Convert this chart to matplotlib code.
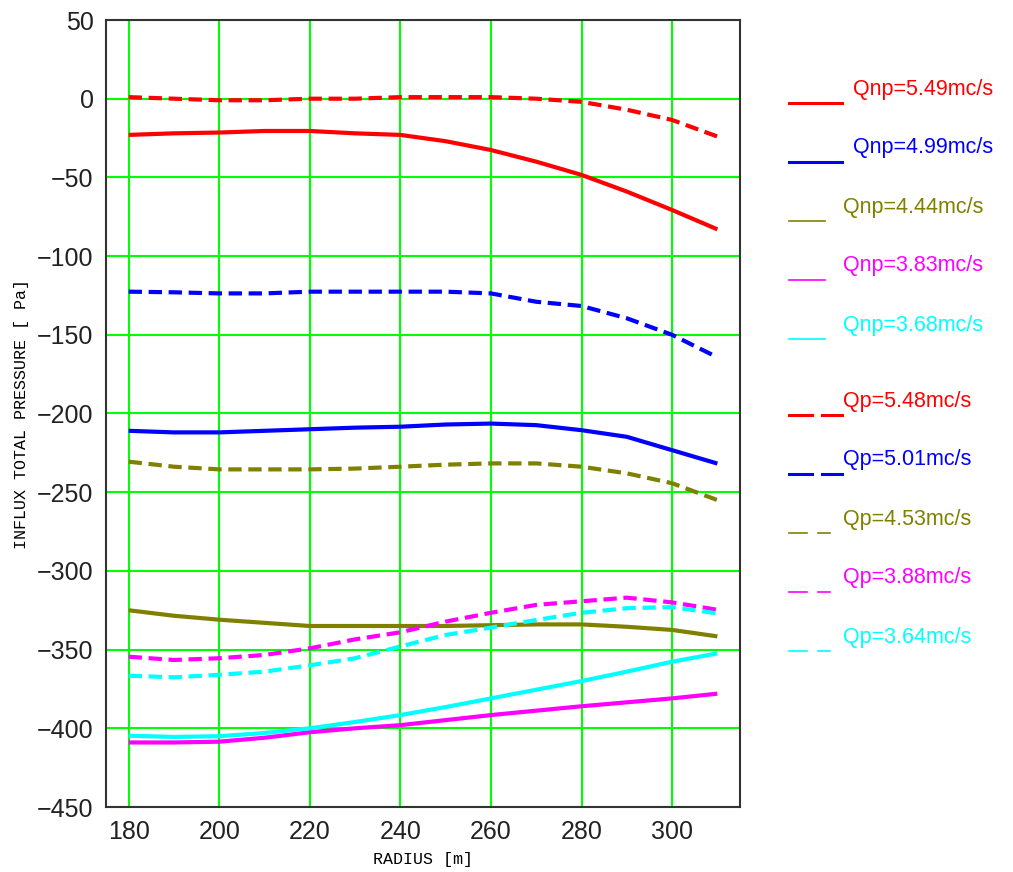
import matplotlib
matplotlib.use("Agg")
import matplotlib.pyplot as plt
from matplotlib.lines import Line2D

radius = [180, 190, 200, 210, 220, 230, 240, 250, 260, 270, 280, 290, 300, 310]

# non-pulsating flow (solid)
qnp_549 = [-23, -22, -21.5, -20.5, -20.5, -22, -23, -27, -32.6, -40, -48.4, -59, -70.7, -83]
qnp_499 = [-211, -212, -212, -211, -210, -209, -208.4, -207, -206.4, -207.4, -210.6, -214.8, -223.3, -231.8]
qnp_444 = [-325, -328.5, -331, -333, -335, -335, -335, -335, -334.5, -334, -334, -335.5, -337.5, -341.6]
qnp_383 = [-409, -409, -408.5, -406, -402.5, -400, -398, -394.8, -391.6, -388.8, -386, -383.5, -381, -378]
qnp_368 = [-404.7, -405.5, -405, -403, -400, -396, -391.6, -386.5, -381, -375.5, -370, -364, -357.7, -352.4]

# pulsating flow (dashed)
qp_548 = [1, 0, -1, -1, 0, 0, 1, 1, 1, 0, -2, -7, -13.5, -24]
qp_501 = [-122.6, -123, -123.7, -123.7, -122.6, -122.6, -122.6, -122.6, -123.7, -129, -131.7, -139.5, -150, -164.3]
qp_453 = [-230.6, -233.8, -235.5, -235.5, -235.5, -235, -233.8, -232.5, -231.7, -231.7, -233.8, -238, -244.3, -255]
qp_388 = [-354.5, -356.6, -355.5, -353.4, -349.2, -343.5, -339, -332.2, -326.6, -321.6, -319.3, -317, -320, -324.7]
qp_364 = [-366.6, -367.6, -366, -364, -360, -355.5, -348, -340.7, -336, -331.2, -326.6, -323.7, -323, -327]

solid = [qnp_549, qnp_499, qnp_444, qnp_383, qnp_368]
dashed = [qp_548, qp_501, qp_453, qp_388, qp_364]
colors = ["#ff0000", "#0000ff", "#808000", "#ff00ff", "#00ffff"]
solid_labels = ["Qnp=5.49mc/s", "Qnp=4.99mc/s", "Qnp=4.44mc/s", "Qnp=3.83mc/s", "Qnp=3.68mc/s"]
dashed_labels = ["Qp=5.48mc/s", "Qp=5.01mc/s", "Qp=4.53mc/s", "Qp=3.88mc/s", "Qp=3.64mc/s"]

W, H = 1013, 872
fig = plt.figure(figsize=(W / 100, H / 100), dpi=100)
ax = fig.add_axes([106 / W, 1 - 807 / H, (740 - 106) / W, (807 - 20) / H])

dash = (0, (3.2, 1.6))
for ys, c in zip(solid, colors):
    ax.plot(radius, ys, color=c, lw=3, solid_capstyle="butt", zorder=3)
for ys, c in zip(dashed, colors):
    ax.plot(radius, ys, color=c, lw=3, linestyle=dash, zorder=3)

ax.set_xlim(175, 315)
ax.set_ylim(-450, 50)
ax.set_xticks(range(180, 301, 20))
ax.set_yticks(range(-450, 51, 50))
ax.yaxis.set_major_formatter(matplotlib.ticker.FuncFormatter(lambda v, p: f"{int(v)}".replace("-", "\u2212")))
ax.grid(True, color="#00ff00", lw=1.5, zorder=1)
ax.tick_params(length=0, labelsize=18, pad=9, labelcolor="#222222")
for lab in ax.get_xticklabels() + ax.get_yticklabels():
    lab.set_family("Liberation Sans")
for s in ax.spines.values():
    s.set_color("#333333")
    s.set_linewidth(1.5)

ax.set_xlabel("RADIUS [m]", family="Liberation Mono", fontsize=12, labelpad=6)
ax.set_ylabel("INFLUX TOTAL PRESSURE [ Pa]", family="Liberation Mono", fontsize=12, labelpad=6)

# hand-made legend on the right
def fx(px):
    return px / W

def fy(py):
    return 1 - py / H

for i, (c, lab) in enumerate(zip(colors, solid_labels)):
    ly = 103 + i * 59
    thick = i < 2
    x1 = 842 if thick else 825
    fig.add_artist(Line2D([fx(789), fx(x1)], [fy(ly), fy(ly)], color=c, lw=2.2 if thick else 1.2))
    fig.text(fx(853 if thick else 843), fy(ly - 14), lab, color=c, fontsize=15.5,
             family="Liberation Sans", va="center", ha="left")

for i, (c, lab) in enumerate(zip(colors, dashed_labels)):
    ly = 415 + i * 59
    thick = i < 2
    lw = 2.2 if thick else 1.2
    x1, x2, x3 = (812, 822, 842) if thick else (807, 818, 830)
    fig.add_artist(Line2D([fx(789), fx(x1)], [fy(ly), fy(ly)], color=c, lw=lw))
    fig.add_artist(Line2D([fx(x2), fx(x3)], [fy(ly), fy(ly)], color=c, lw=lw))
    fig.text(fx(843), fy(ly - 14), lab, color=c, fontsize=15.5,
             family="Liberation Sans", va="center", ha="left")

fig.savefig("out.png", dpi=100, facecolor="white")
